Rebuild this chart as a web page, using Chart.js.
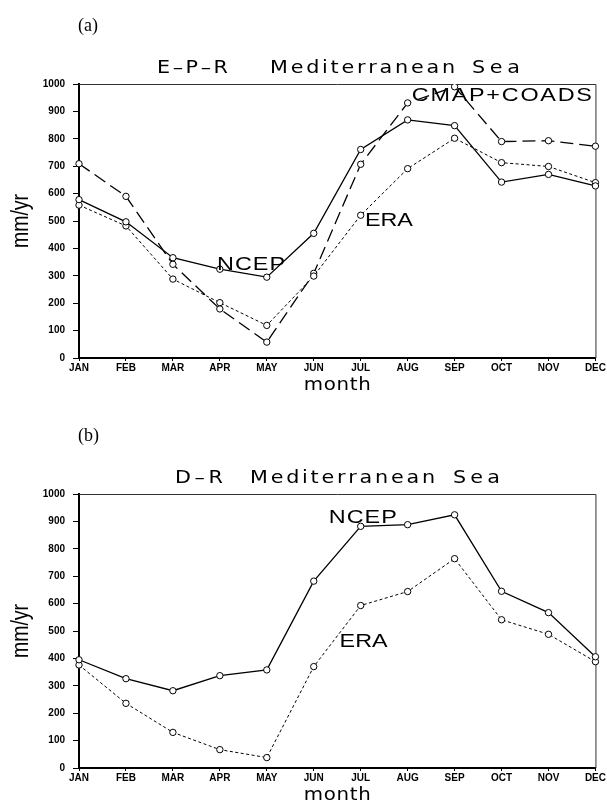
<!DOCTYPE html>
<html>
<head>
<meta charset="utf-8">
<title>E-P-R and D-R Mediterranean Sea</title>
<script src="https://cdn.jsdelivr.net/npm/chart.js@4.4.1/dist/chart.umd.min.js"></script>
<style>
    html, body { margin: 0; padding: 0; background: #fff; }
    #wrap { position: relative; width: 607px; height: 803px; }
    canvas { position: absolute; left: 0; }
    #chartA { top: 0; }
    #chartB { top: 410px; }
</style>
</head>
<body>
<div id="wrap">
    <canvas id="chartA" width="607" height="410"></canvas>
    <canvas id="chartB" width="607" height="393"></canvas>
</div>
<script>
// Months along the x axis
const months = ['JAN', 'FEB', 'MAR', 'APR', 'MAY', 'JUN', 'JUL', 'AUG', 'SEP', 'OCT', 'NOV', 'DEC'];
const yTicks = [0, 100, 200, 300, 400, 500, 600, 700, 800, 900, 1000];

// (a) E-P-R, mm/yr
const eprNcep = [578, 497, 366, 324, 295, 455, 761, 869, 848, 642, 670, 628];
const eprEra  = [558, 482, 288, 202, 119, 299, 521, 691, 802, 713, 699, 640];
const eprCmap = [709, 590, 342, 179, 58, 309, 707, 931, 990, 790, 793, 773];

// (b) D-R, mm/yr
const drNcep = [395, 326, 282, 337, 358, 682, 882, 888, 924, 645, 567, 406];
const drEra  = [376, 236, 130, 67, 38, 370, 593, 644, 764, 541, 488, 388];

// Curve names written in the plot: [text, month index, value]
const eprNames = [['NCEP', 2.94, 339], ['ERA', 6.09, 500], ['CMAP+COADS', 7.09, 956]];
const drNames  = [['NCEP', 5.32, 912], ['ERA', 5.55, 460]];

// Title words: [text, left x, width] as laid out in the reference
const eprTitle = [['E\u2013P\u2013R', 157, 71], ['Mediterranean', 270, 185], ['Sea', 472, 48]];
const drTitle  = [['D\u2013R', 175, 48], ['Mediterranean', 250, 185], ['Sea', 453, 47]];

// Widths the stretched texts take up in the reference
const nameWidth = { 'NCEP': 68, 'ERA': 48, 'CMAP+COADS': 180 };

/**
 * Draw text with wide letters, spread so it fills the given width
 */
function drawFitted(ctx, text, x, y, width, align, stretch) {
    stretch = stretch || 1;
    const chars = Array.from(text);
    const widths = chars.map(ch => ctx.measureText(ch).width);
    let natural = widths.reduce((s, w) => s + w, 0);
    let gap = chars.length > 1 ? (width - natural * stretch) / (chars.length - 1) : 0;
    if (gap < 0 || chars.length < 2) {
        stretch = width / natural;
        gap = 0;
    }
    let cx = align === 'center' ? x - width / 2 : x;
    ctx.save();
    ctx.textAlign = 'left';
    ctx.textBaseline = 'middle';
    chars.forEach((ch, i) => {
        ctx.save();
        ctx.translate(cx, y);
        ctx.scale(stretch, 1);
        ctx.fillText(ch, 0, 0);
        ctx.restore();
        cx += widths[i] * stretch + gap;
    });
    ctx.restore();
}

function lineSet(data, dash, width) {
    return {
        data: data,
        borderColor: '#000',
        borderWidth: width,
        borderDash: dash,
        tension: 0,
        fill: false,
        pointRadius: 3.2,
        pointBackgroundColor: '#fff',
        pointBorderColor: '#000',
        pointBorderWidth: 1
    };
}

// Thin top and right edges of the plot box
const framePlugin = {
    id: 'frame',
    beforeDatasetsDraw(chart) {
        const { ctx, chartArea: a } = chart;
        ctx.save();
        ctx.strokeStyle = '#333';
        ctx.lineWidth = 1;
        ctx.beginPath();
        ctx.moveTo(a.left, a.top + 0.5);
        ctx.lineTo(a.right + 0.5, a.top + 0.5);
        ctx.lineTo(a.right + 0.5, a.bottom);
        ctx.stroke();
        ctx.restore();
    }
};

// Panel letter, titles and curve names
const textPlugin = {
    id: 'texts',
    afterDraw(chart, args, opts) {
        const { ctx, chartArea: a, scales } = chart;
        const cx = (a.left + a.right) / 2;
        ctx.save();
        ctx.fillStyle = '#000';

        ctx.font = '18px "Liberation Serif"';
        ctx.textAlign = 'left';
        ctx.textBaseline = 'middle';
        ctx.fillText(opts.panel, 78, 26);

        ctx.font = '18px "DejaVu Sans"';
        opts.title.forEach(([text, left, width]) => {
            drawFitted(ctx, text, left, a.top - 16, width, 'left', 1.15);
        });
        drawFitted(ctx, 'month', cx, a.bottom + 27, 67, 'center', 1.1);

        ctx.save();
        ctx.translate(22, (a.top + a.bottom) / 2);
        ctx.rotate(-Math.PI / 2);
        ctx.font = '23px "Liberation Sans"';
        drawFitted(ctx, 'mm/yr', 0, 0, 54, 'center');
        ctx.restore();

        ctx.font = '18px "Liberation Sans"';
        opts.names.forEach(([text, mi, val]) => {
            const px = scales.x.getPixelForValue(mi);
            const py = scales.y.getPixelForValue(val);
            drawFitted(ctx, text, px, py, nameWidth[text], 'left', 1.3);
        });
        ctx.restore();
    }
};

function makeChart(canvasId, datasets, panel, title, names) {
    const canvas = document.getElementById(canvasId);
    const tickFont = { family: 'Liberation Sans', size: 10, weight: 'bold' };
    return new Chart(canvas, {
        type: 'line',
        data: { labels: months, datasets: datasets },
        plugins: [framePlugin, textPlugin],
        options: {
            responsive: false,
            animation: false,
            layout: { padding: { top: 84, right: 11, left: 0, bottom: 0 } },
            plugins: {
                legend: { display: false },
                tooltip: { enabled: false },
                texts: { panel: panel, title: title, names: names }
            },
            scales: {
                x: {
                    offset: false,
                    grid: { drawOnChartArea: false, drawTicks: true, tickLength: 3, color: '#000' },
                    border: { display: true, color: '#000', width: 2 },
                    ticks: { color: '#000', font: tickFont, padding: 1, autoSkip: false, maxRotation: 0 },
                    afterFit(scale) { scale.height = canvas.height - 358; }
                },
                y: {
                    min: 0,
                    max: 1000,
                    afterBuildTicks(scale) { scale.ticks = yTicks.map(v => ({ value: v })); },
                    grid: { drawOnChartArea: false, drawTicks: true, tickLength: 6, color: '#000' },
                    border: { display: true, color: '#000', width: 2 },
                    ticks: { color: '#000', font: tickFont, padding: 8, callback: v => String(v) },
                    afterFit(scale) { scale.width = 79; }
                }
            }
        }
    });
}

makeChart('chartA', [
    lineSet(eprNcep, [], 1.3),
    lineSet(eprEra, [3, 2.5], 1),
    lineSet(eprCmap, [13, 6], 1.3)
], '(a)', eprTitle, eprNames);

makeChart('chartB', [
    lineSet(drNcep, [], 1.3),
    lineSet(drEra, [3, 2.5], 1)
], '(b)', drTitle, drNames);
</script>
</body>
</html>
